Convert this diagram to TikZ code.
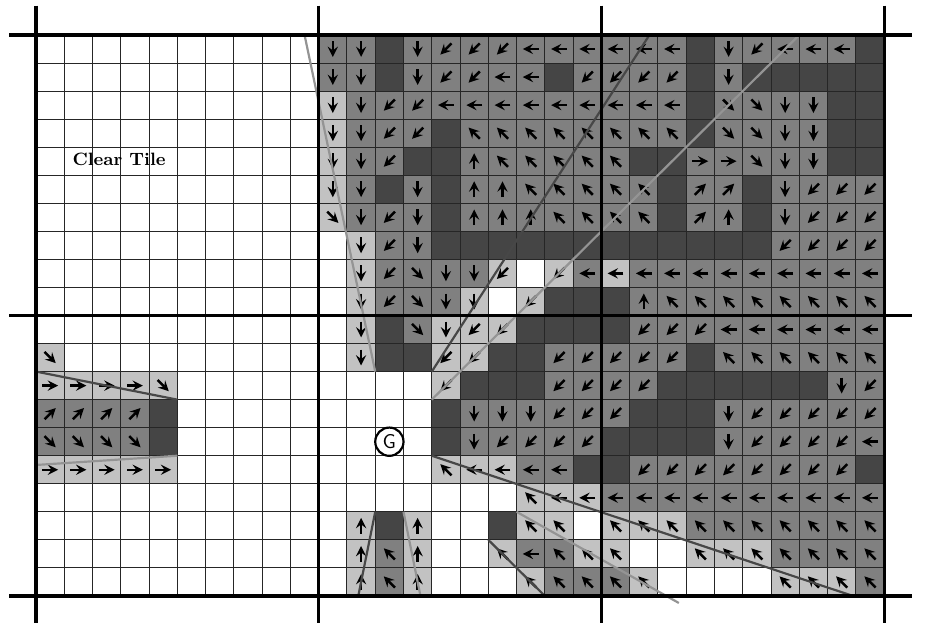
\documentclass[tikz,border=0pt]{standalone}
\usetikzlibrary{calc}
\colorlet{lt}{black!24}
\colorlet{md}{black!50}
\colorlet{dk}{black!73}
\colorlet{wt}{white}
\tikzset{
  arrowmark/.style={->, line width=1.25pt},
  gridline/.style={line width=0.5pt, black!85},
  tileline/.style={line width=1.6pt, black},
  raydark/.style={line width=1.1pt, black!72},
  raylight/.style={line width=1.1pt, black!42},
}
% one row of cells: row, first column, list of colour/angle (999 = no arrow)
\newcommand{\cellrow}[3]{%
  \foreach \fil/\ang [count=\col from #2] in {#3}{%
    \fill[fill=\fil] (\col,#1) rectangle ++(1,1);
    \ifnum\ang<900
      \draw[arrowmark] (\col+0.5,#1+0.5) ++(\ang+180:0.14cm) -- ++(\ang:0.28cm);
    \fi
  }%
}
\begin{document}
\begin{tikzpicture}[x=0.5cm, y=-0.4961cm, >=stealth]
  \useasboundingbox (-1.2734,-1.2478) rectangle (31.624,21.141);
  % cells, tiles (1,0) and (2,0)
  \cellrow{0}{10}{md/270,md/270,dk/999,md/270,md/225,md/225,md/225,md/180,md/180,md/180,md/180,md/180,md/180,dk/999,md/270,md/225,md/180,md/180,md/180,dk/999}
  \cellrow{1}{10}{md/270,md/270,dk/999,md/270,md/225,md/225,md/180,md/180,dk/999,md/225,md/225,md/225,md/225,dk/999,md/270,dk/999,dk/999,dk/999,dk/999,dk/999}
  \cellrow{2}{10}{lt/270,md/270,md/225,md/225,md/180,md/180,md/180,md/180,md/180,md/180,md/180,md/180,md/180,dk/999,md/315,md/315,md/270,md/270,dk/999,dk/999}
  \cellrow{3}{10}{lt/270,md/270,md/225,md/225,dk/999,md/135,md/135,md/135,md/135,md/135,md/135,md/135,md/135,dk/999,md/315,md/315,md/270,md/270,dk/999,dk/999}
  \cellrow{4}{10}{lt/270,md/270,md/225,dk/999,dk/999,md/90,md/135,md/135,md/135,md/135,md/135,dk/999,dk/999,md/0,md/0,md/315,md/270,md/270,dk/999,dk/999}
  \cellrow{5}{10}{lt/270,md/270,dk/999,md/270,dk/999,md/90,md/90,md/135,md/135,md/135,md/135,md/135,dk/999,md/45,md/45,dk/999,md/270,md/225,md/225,md/225}
  \cellrow{6}{10}{lt/315,md/270,md/225,md/270,dk/999,md/90,md/90,md/90,md/135,md/135,md/135,md/135,dk/999,md/45,md/90,dk/999,md/270,md/225,md/225,md/225}
  \cellrow{7}{11}{lt/270,md/225,md/270,dk/999,dk/999,dk/999,dk/999,dk/999,dk/999,dk/999,dk/999,dk/999,dk/999,dk/999,dk/999,md/225,md/225,md/225,md/225}
  \cellrow{8}{11}{lt/270,md/225,md/315,md/270,md/270,lt/225,wt/999,lt/225,md/180,lt/180,md/180,md/180,md/180,md/180,md/180,md/180,md/180,md/180,md/180}
  \cellrow{9}{11}{lt/270,md/225,md/315,md/270,lt/270,wt/999,lt/225,dk/999,dk/999,dk/999,md/90,md/135,md/135,md/135,md/135,md/135,md/135,md/135,md/135}
  % tiles (1,1) and (2,1)
  \cellrow{10}{11}{lt/270,dk/999,md/315,lt/270,lt/225,lt/225,dk/999,dk/999,dk/999,dk/999,md/225,md/225,md/225,md/180,md/180,md/180,md/180,md/180,md/180}
  \cellrow{11}{11}{lt/270,dk/999,dk/999,lt/225,lt/225,dk/999,dk/999,md/225,md/225,md/225,md/225,md/225,dk/999,md/135,md/135,md/135,md/135,md/135,md/135}
  \cellrow{12}{14}{lt/225,dk/999,dk/999,dk/999,md/225,md/225,md/225,md/225,dk/999,dk/999,dk/999,dk/999,dk/999,dk/999,md/270,md/225}
  \cellrow{13}{14}{dk/999,md/270,md/270,md/270,md/225,md/225,md/225,dk/999,dk/999,dk/999,md/270,md/225,md/225,md/225,md/225,md/225}
  \cellrow{14}{14}{dk/999,md/270,md/225,md/225,md/225,md/225,dk/999,dk/999,dk/999,dk/999,md/270,md/225,md/225,md/225,md/225,md/180}
  \cellrow{15}{14}{lt/135,lt/180,lt/180,md/180,md/180,dk/999,dk/999,md/225,md/225,md/225,md/225,md/225,md/225,md/225,md/225,dk/999}
  \cellrow{16}{17}{lt/135,lt/180,lt/180,md/180,md/180,md/180,md/180,md/180,md/180,md/180,md/180,md/180,md/180}
  \cellrow{17}{11}{lt/90,dk/999,lt/90,wt/999,wt/999,dk/999,lt/135,lt/135,wt/999,lt/135,lt/135,lt/135,md/135,md/135,md/135,md/135,md/135,md/135,md/135}
  \cellrow{18}{11}{lt/90,md/135,lt/90,wt/999,wt/999,lt/135,md/180,md/135,lt/135,lt/135,wt/999,wt/999,lt/135,lt/135,lt/135,md/135,md/135,md/135,md/135}
  \cellrow{19}{11}{lt/90,md/135,lt/90,wt/999,wt/999,wt/999,lt/135,md/135,md/135,md/135,lt/135,wt/999,wt/999,wt/999,wt/999,lt/135,lt/135,lt/135,md/135}
  % tile (0,1)
  \cellrow{11}{0}{lt/315}
  \cellrow{12}{0}{lt/0,lt/0,lt/0,lt/0,lt/315}
  \cellrow{13}{0}{md/45,md/45,md/45,md/45,dk/999}
  \cellrow{14}{0}{md/315,md/315,md/315,md/315,dk/999}
  \cellrow{15}{0}{lt/0,lt/0,lt/0,lt/0,lt/0}
  % grid
  \foreach \i in {0,...,30} \draw[gridline] (\i,0) -- (\i,20);
  \foreach \j in {0,...,20} \draw[gridline] (0,\j) -- (30,\j);
  % rays
  \draw[raylight] (12,12) -- (9.5,0);
  \draw[raydark] (14,12) -- (21.7,0);
  \draw[raylight] (14,13) -- (27,0);
  \draw[raydark] (14,15) -- (28.9,20);
  \draw[raylight] (17,17) -- (22.74,20.25);
  \draw[raydark] (16,18) -- (18,20);
  \draw[raydark] (12,17) -- (11.4,20);
  \draw[raylight] (13,17) -- (13.6,20);
  \draw[raydark] (5,13) -- (0,12);
  \draw[raylight] (5,15) -- (0,15.33);
  % tile borders
  \foreach \i in {0,10,20,30} \draw[tileline] (\i,-1.05) -- (\i,20.95);
  \foreach \j in {0,10,20} \draw[tileline] (-0.95,\j) -- (31,\j);
  % goal and label
  \node[draw, circle, fill=white, line width=1.1pt, minimum size=0.5cm, inner sep=0pt, font=\sffamily] (goal) at (12.5,14.5) {G};
  \node[font=\fontsize{9}{10}\selectfont\bfseries] (clear) at (2.94,4.42) {Clear Tile};
\end{tikzpicture}
\end{document}
